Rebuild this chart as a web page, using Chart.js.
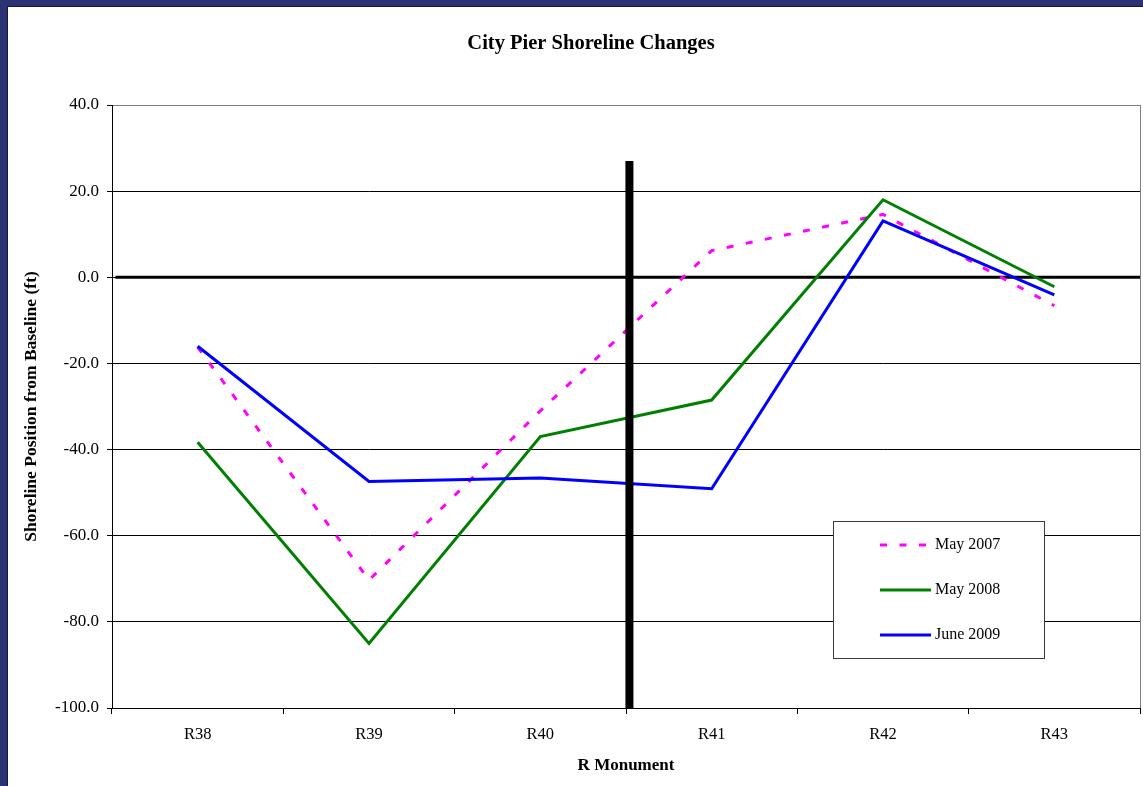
<!DOCTYPE html>
<html>
<head>
<meta charset="utf-8">
<title>City Pier Shoreline Changes</title>
<script src="https://cdn.jsdelivr.net/npm/chart.js@4/dist/chart.umd.min.js"></script>
<style>
  html, body { margin: 0; padding: 0; width: 1143px; height: 786px; overflow: hidden; background: #2c3372; }
  #sheet { position: absolute; left: 7px; top: 6px; width: 1200px; height: 800px; background: #fff;
           border-left: 1px solid #15183a; border-top: 1px solid #15183a; }
  #wrap { position: absolute; left: 8px; top: 7px; width: 1166px; height: 779px; }
</style>
</head>
<body>
<div id="sheet"></div>
<div id="wrap"><canvas id="chart"></canvas></div>
<script>
// Survey monuments along the shoreline
const monuments = ['R38', 'R39', 'R40', 'R41', 'R42', 'R43'];

// Shoreline position from baseline (ft) for each survey
const may2007 = [-16.2, -70.3, -31.0, 6.2, 14.6, -6.6];
const may2008 = [-38.3, -85.0, -37.0, -28.5, 18.0, -2.2];
const june2009 = [-16.0, -47.4, -46.6, -49.1, 13.1, -4.1];

// Y axis range and step
const yMin = -100;
const yMax = 40;
const yStep = 20;

// Pier location (between R40 and R41) and its drawn height
const pierX = [2.52, 2.52];
const pierY = [-100, 27];

// Baseline reference (0 ft)
const baseX = [-0.48, 5.5];
const baseY = [0, 0];

const serif = "'Liberation Serif', 'Times New Roman', serif";

const toPoints = (xs, ys) => xs.map((x, i) => ({ x: x, y: ys[i] }));

// Plot frame: grey outline around the plotting area
const frame = {
  id: 'frame',
  beforeDraw(chart) {
    const { ctx, chartArea: a } = chart;
    ctx.save();
    ctx.strokeStyle = '#808080';
    ctx.lineWidth = 1;
    ctx.strokeRect(Math.round(a.left) + 0.5, Math.round(a.top) + 0.5,
                   Math.round(a.right - a.left), Math.round(a.bottom - a.top));
    ctx.restore();
  }
};

// Boxed legend inside the plot, built from the labelled datasets
const boxLegend = {
  id: 'boxLegend',
  afterDraw(chart, args, opts) {
    const { ctx } = chart;
    const items = chart.data.datasets.filter(d => d.label);
    ctx.save();
    ctx.fillStyle = '#fff';
    ctx.fillRect(opts.left, opts.top, opts.width, opts.height);
    ctx.strokeStyle = '#3a3a3a';
    ctx.lineWidth = 1;
    ctx.strokeRect(opts.left + 0.5, opts.top + 0.5, opts.width, opts.height);
    items.forEach((d, i) => {
      const y = opts.firstRow + i * opts.rowGap;
      ctx.beginPath();
      ctx.strokeStyle = d.borderColor;
      ctx.lineWidth = d.borderWidth;
      ctx.lineCap = 'butt';
      ctx.setLineDash(d.borderDash || []);
      ctx.moveTo(opts.sampleLeft, y);
      ctx.lineTo(opts.sampleLeft + opts.sampleWidth, y);
      ctx.stroke();
      ctx.setLineDash([]);
      ctx.fillStyle = '#000';
      ctx.font = '16px ' + serif;
      ctx.textBaseline = 'middle';
      ctx.textAlign = 'left';
      ctx.fillText(d.label, opts.textLeft, y);
    });
    ctx.restore();
  }
};

new Chart(document.getElementById('chart'), {
  type: 'line',
  data: {
    labels: monuments,
    datasets: [
      {
        label: 'May 2007',
        data: may2007,
        borderColor: '#ff00ff',
        borderWidth: 3,
        borderDash: [7, 12.5],
        pointRadius: 0,
        tension: 0,
        order: 5
      },
      {
        label: 'May 2008',
        data: may2008,
        borderColor: '#008000',
        borderWidth: 3,
        pointRadius: 0,
        tension: 0,
        order: 4
      },
      {
        label: 'June 2009',
        data: june2009,
        borderColor: '#0000ff',
        borderWidth: 3,
        pointRadius: 0,
        tension: 0,
        order: 3
      },
      {
        data: toPoints(baseX, baseY),
        xAxisID: 'xl',
        borderColor: '#000',
        borderWidth: 3,
        pointRadius: 0,
        order: 10
      },
      {
        data: toPoints(pierX, pierY),
        xAxisID: 'xl',
        borderColor: '#000',
        borderWidth: 8,
        borderCapStyle: 'butt',
        pointRadius: 0,
        order: 0
      }
    ]
  },
  options: {
    responsive: true,
    maintainAspectRatio: false,
    animation: false,
    devicePixelRatio: 1,
    layout: { padding: 0 },
    plugins: {
      legend: { display: false },
      tooltip: { enabled: false },
      title: {
        display: true,
        text: 'City Pier Shoreline Changes',
        color: '#000',
        font: { family: serif, size: 20.5, weight: 'bold' },
        padding: { top: 24.5, bottom: 48.9 }
      },
      boxLegend: {
        left: 825, top: 514, width: 211, height: 137,
        firstRow: 538, rowGap: 45,
        sampleLeft: 872, sampleWidth: 51, textLeft: 927
      }
    },
    scales: {
      x: {
        type: 'category',
        offset: true,
        afterFit(scale) { scale.height = 78; },
        grid: {
          display: true,
          offset: true,
          drawOnChartArea: false,
          drawTicks: true,
          tickLength: 6,
          color: '#000'
        },
        border: { display: true, color: '#000', width: 1 },
        ticks: {
          color: '#000',
          font: { family: serif, size: 16.5 },
          padding: 11,
          maxRotation: 0
        },
        title: {
          display: true,
          text: 'R Monument',
          color: '#000',
          font: { family: serif, size: 17, weight: 'bold' },
          padding: { top: 10, bottom: 9.8 }
        }
      },
      xl: {
        type: 'linear',
        display: false,
        min: -0.5,
        max: 5.5
      },
      y: {
        min: yMin,
        max: yMax,
        afterFit(scale) { scale.width = 104; },
        grid: {
          color: c => (c.tick && c.tick.value === yMax) ? '#808080' : '#000',
          lineWidth: 1,
          drawTicks: true,
          tickLength: 5,
          tickColor: '#000'
        },
        border: { display: true, color: '#000', width: 1 },
        ticks: {
          stepSize: yStep,
          color: '#000',
          font: { family: serif, size: 17 },
          padding: 8,
          callback: v => Number(v).toFixed(1)
        },
        title: {
          display: true,
          text: 'Shoreline Position from Baseline (ft)',
          color: '#000',
          font: { family: serif, size: 17.5, weight: 'bold' },
          padding: { top: 12.5, bottom: 10 }
        }
      },
      // empty spacer on the right so the plot stops short of the canvas edge
      yr: {
        position: 'right',
        display: true,
        afterFit(scale) { scale.width = 34; },
        grid: { display: false, drawTicks: false },
        border: { display: false },
        ticks: { display: false }
      }
    }
  },
  plugins: [frame, boxLegend]
});
</script>
</body>
</html>
